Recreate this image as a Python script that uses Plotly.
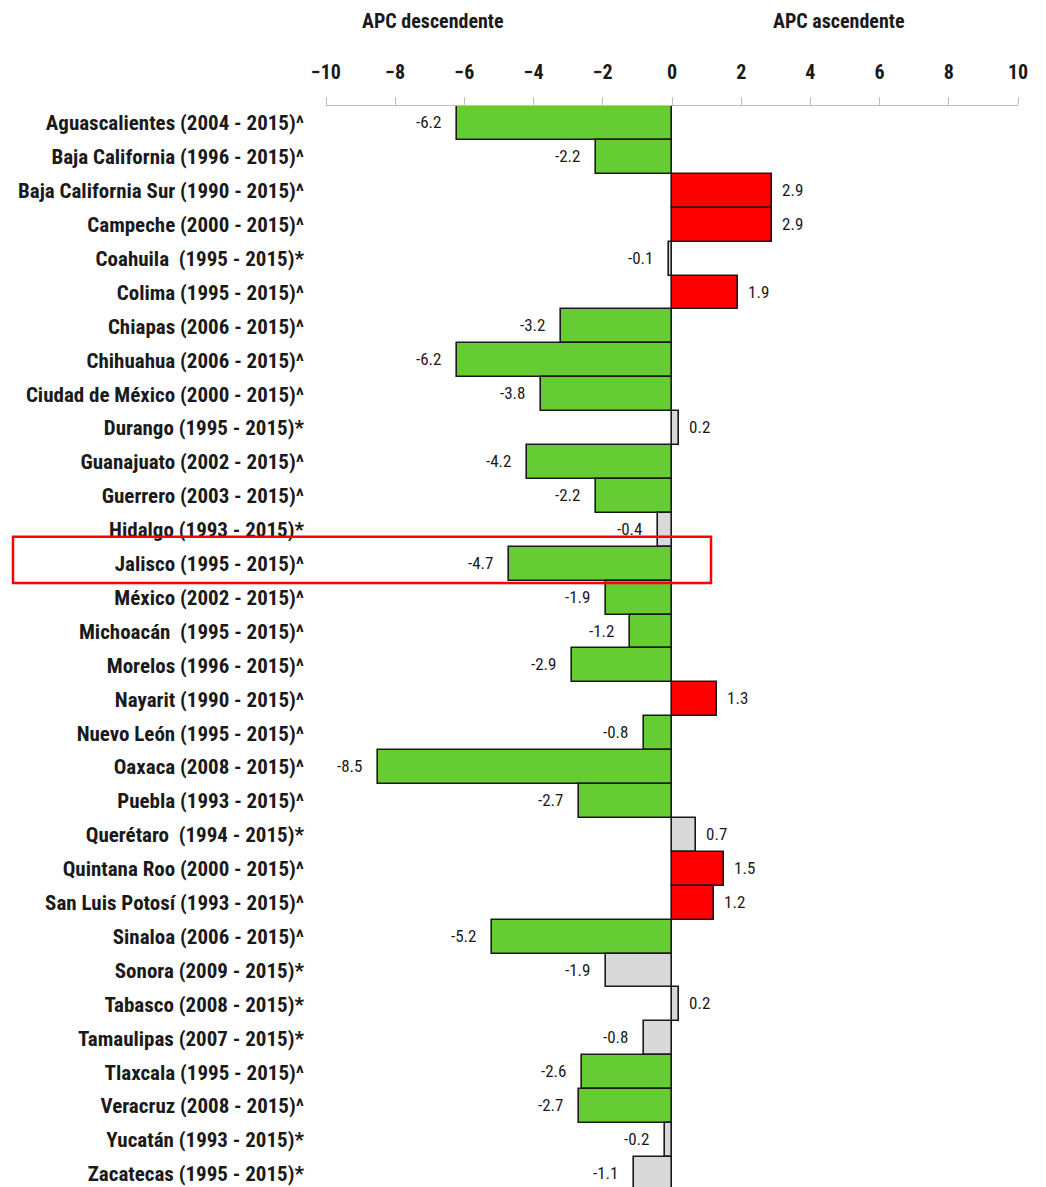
import plotly.graph_objects as go

states = [
    "Aguascalientes (2004 - 2015)^", "Baja California (1996 - 2015)^",
    "Baja California Sur (1990 - 2015)^", "Campeche (2000 - 2015)^",
    "Coahuila  (1995 - 2015)*", "Colima (1995 - 2015)^", "Chiapas (2006 - 2015)^",
    "Chihuahua (2006 - 2015)^", "Ciudad de México (2000 - 2015)^",
    "Durango (1995 - 2015)*", "Guanajuato (2002 - 2015)^", "Guerrero (2003 - 2015)^",
    "Hidalgo (1993 - 2015)*", "Jalisco (1995 - 2015)^", "México (2002 - 2015)^",
    "Michoacán  (1995 - 2015)^", "Morelos (1996 - 2015)^", "Nayarit (1990 - 2015)^",
    "Nuevo León (1995 - 2015)^", "Oaxaca (2008 - 2015)^", "Puebla (1993 - 2015)^",
    "Querétaro  (1994 - 2015)*", "Quintana Roo (2000 - 2015)^",
    "San Luis Potosí (1993 - 2015)^", "Sinaloa (2006 - 2015)^", "Sonora (2009 - 2015)*",
    "Tabasco (2008 - 2015)*", "Tamaulipas (2007 - 2015)*", "Tlaxcala (1995 - 2015)^",
    "Veracruz (2008 - 2015)^", "Yucatán (1993 - 2015)*", "Zacatecas (1995 - 2015)*",
]
apc = [-6.2, -2.2, 2.9, 2.9, -0.1, 1.9, -3.2, -6.2, -3.8, 0.2, -4.2, -2.2, -0.4, -4.7,
       -1.9, -1.2, -2.9, 1.3, -0.8, -8.5, -2.7, 0.7, 1.5, 1.2, -5.2, -1.9, 0.2, -0.8,
       -2.6, -2.7, -0.2, -1.1]
x_ticks = [-10, -8, -6, -4, -2, 0, 2, 4, 6, 8, 10]
highlight = "Jalisco (1995 - 2015)^"

GREEN, RED, GRAY = "#66CC33", "#FF0000", "#D9D9D9"
colors = []
for s, v in zip(states, apc):
    if s.endswith("*"):
        colors.append(GRAY)
    else:
        colors.append(RED if v > 0 else GREEN)

NB = "\u00a0"
texts = [(NB * 2 + f"{v:.1f}") if v > 0 else (f"{v:.1f}" + NB * 3) for v in apc]

FONT = "Liberation Sans Narrow, Arial Narrow, Roboto Condensed, sans-serif"
W, H = 1038, 1179
ML, MR, MT, MB = 318, 28, 98, 0
PLOT_H = H - MT - MB
ROW = 33.9  # px per category row

fig = go.Figure(go.Bar(
    x=apc, y=states, orientation="h", width=1,
    marker=dict(color=colors, line=dict(color="#1a1a1a", width=1.6)),
    text=texts, textposition="outside", constraintext="none", cliponaxis=False,
    textfont=dict(family=FONT, size=17, color="#1a1a1a", weight="normal"),
    hoverinfo="skip",
))

fig.update_layout(
    width=W, height=H,
    margin=dict(l=ML, r=MR, t=MT, b=MB),
    plot_bgcolor="white", paper_bgcolor="white",
    showlegend=False, bargap=0,
    font=dict(family=FONT, size=20, color="#1a1a1a", weight="bold"),
    xaxis=dict(
        range=[-10, 10], side="top", tickvals=x_ticks, ticks="outside", ticklen=8,
        tickcolor="#BFBFBF", showline=True, linecolor="#BFBFBF", linewidth=1,
        showgrid=False, zeroline=False, ticklabelstandoff=10,
        tickfont=dict(family=FONT, size=20, color="#1a1a1a", weight="bold"),
    ),
    yaxis=dict(
        type="category", categoryorder="array", categoryarray=states,
        range=[-0.5 + PLOT_H / ROW, -0.5], showgrid=False, zeroline=False,
        showline=False, ticks="", ticklabelstandoff=21,
        tickfont=dict(family=FONT, size=21, color="#1a1a1a", weight="bold"),
    ),
)

hi = states.index(highlight)
pw = W - ML - MR
fig.add_shape(type="rect", xref="paper", yref="y",
              x0=(5 - ML) / pw, x1=(703 - ML) / pw,
              y0=hi - 0.79, y1=hi + 0.57,
              line=dict(color="#FF0000", width=2.5), fillcolor="rgba(0,0,0,0)")

for label, xv in [("APC descendente", -6.9), ("APC ascendente", 4.8)]:
    fig.add_annotation(text=label, x=xv, xref="x", y=(H - 13 - MB) / PLOT_H,
                       yref="paper", showarrow=False, yanchor="middle",
                       font=dict(family=FONT, size=20, color="#1a1a1a", weight="bold"))

fig.write_html("out.html")
